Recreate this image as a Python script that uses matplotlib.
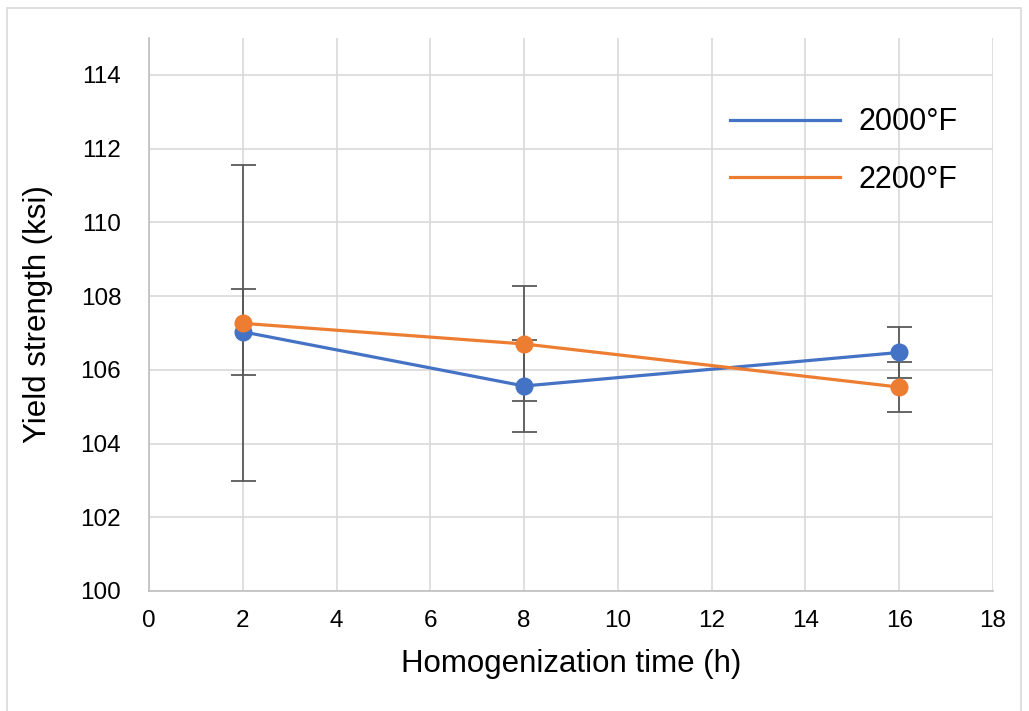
import matplotlib.pyplot as plt
from matplotlib.patches import Rectangle
from matplotlib.lines import Line2D

plt.rcParams['font.family'] = ['Liberation Sans', 'DejaVu Sans']

hours = [2, 8, 16]
ys_2000 = [107.03, 105.56, 106.47]
err_2000 = [1.16, 1.25, 0.70]
ys_2200 = [107.26, 106.70, 105.53]
err_2200 = [4.29, 1.56, 0.68]
labels = ['2000°F', '2200°F']

blue = '#4472C4'
orange = '#ED7D31'
grid = '#d9d9d9'

fig = plt.figure(figsize=(10.29, 7.11), dpi=100)
ax = fig.add_axes([0.1448, 0.1688, 0.8202, 0.7778])

# error bars under the lines
ax.errorbar(hours, ys_2000, yerr=err_2000, fmt='none', ecolor='#595959',
            elinewidth=1.3, capsize=9, capthick=1.3, zorder=2)
ax.errorbar(hours, ys_2200, yerr=err_2200, fmt='none', ecolor='#595959',
            elinewidth=1.3, capsize=9, capthick=1.3, zorder=2)

ax.plot(hours, ys_2000, color=blue, lw=2.3, marker='o', ms=12, zorder=3)
ax.plot(hours, ys_2200, color=orange, lw=2.3, marker='o', ms=12, zorder=4)

ax.set_xlim(0, 18)
ax.set_ylim(100, 115)
ax.set_xticks(range(0, 19, 2))
ax.set_yticks(range(100, 115, 2))
ax.grid(True, color=grid, lw=1.2, zorder=0)
ax.set_axisbelow(True)
for s in ['top', 'right']:
    ax.spines[s].set_visible(False)
for s in ['left', 'bottom']:
    ax.spines[s].set_color('#bfbfbf')
    ax.spines[s].set_linewidth(1.2)
ax.tick_params(length=0, labelsize=17.5, colors='black')
ax.tick_params(axis='y', pad=20)
ax.tick_params(axis='x', pad=14)

ax.set_xlabel('Homogenization time (h)', fontsize=22.5, labelpad=12)
ax.set_ylabel('Yield strength (ksi)', fontsize=22.5, labelpad=20)

# legend: lines only
handles = [Line2D([], [], color=blue, lw=2.3), Line2D([], [], color=orange, lw=2.3)]
fig.legend(handles, labels, loc='upper left', bbox_to_anchor=(0.698, 0.866),
           frameon=False, fontsize=22, handlelength=3.6, handletextpad=0.6,
           labelspacing=0.9, borderaxespad=0)

# outer chart border
fig.patches.append(Rectangle((7 / 1029, -0.02), 1014 / 1029, 1.02 - 8 / 711,
                             transform=fig.transFigure, fill=False,
                             edgecolor='#d9d9d9', lw=1.2))

fig.savefig('out.png', dpi=100)
